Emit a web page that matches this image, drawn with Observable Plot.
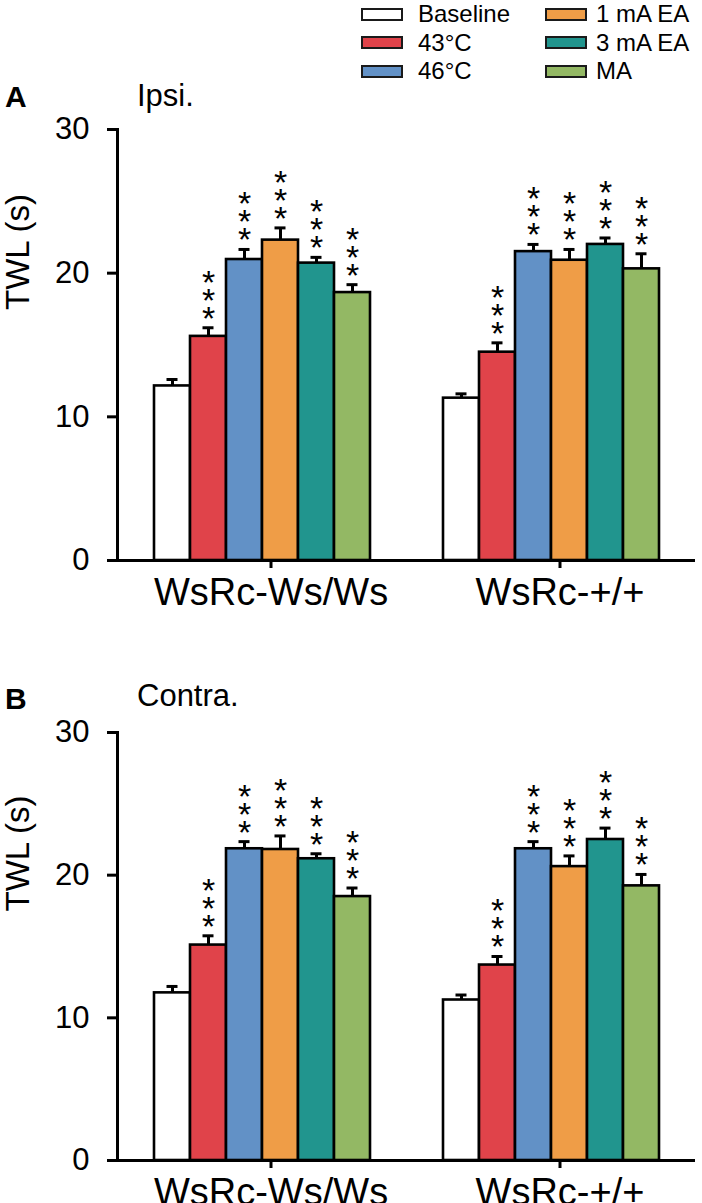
<!DOCTYPE html>
<html>
<head>
<meta charset="utf-8">
<script src="https://cdn.jsdelivr.net/npm/d3@7"></script>
<script src="https://cdn.jsdelivr.net/npm/@observablehq/plot@0.6"></script>
<style>
  html, body { margin: 0; padding: 0; background: #fff; }
  body { width: 702px; height: 1203px; position: relative; overflow: hidden;
         font-family: "Liberation Sans", Arial, Helvetica, sans-serif; color: #000; }
  .panel { position: absolute; left: 0; }
  .lab { position: absolute; font-size: 31px; line-height: 1; white-space: nowrap; }
  .legend-item { position: absolute; display: flex; align-items: center; font-size: 24px; line-height: 1; white-space: nowrap; }
  .sw { width: 42px; height: 13px; box-sizing: border-box; border: 2.5px solid #1a1a1a; }
</style>
</head>
<body>
<div id="legend"></div>
<div class="lab" style="left:5px; top:82px; font-weight:bold; font-size:30px;">A</div>
<div class="lab" style="left:137px; top:80px;">Ipsi.</div>
<div class="lab" style="left:5px; top:684px; font-weight:bold; font-size:30px;">B</div>
<div class="lab" style="left:137px; top:680px;">Contra.</div>
<div id="panelA" class="panel" style="top:0px;"></div>
<div id="panelB" class="panel" style="top:600px;"></div>
<script>
// ---- data ----
const groups = ["WsRc-Ws/Ws", "WsRc-+/+"];
const conditions = ["Baseline", "43°C", "46°C", "1 mA EA", "3 mA EA", "MA"];
const colors = ["#ffffff", "#e0434a", "#6291c6", "#ef9d47", "#21958e", "#93b864"];
const stars = ["", "***", "***", "***", "***", "***"];

// Panel A (Ipsi.)
const ipsiWsMean = [12.15, 15.6, 20.95, 22.3, 20.7, 18.65];
const ipsiWsSem  = [0.45, 0.6, 0.7, 0.85, 0.4, 0.55];
const ipsiWtMean = [11.3, 14.5, 21.5, 20.9, 22.0, 20.3];
const ipsiWtSem  = [0.3, 0.65, 0.5, 0.75, 0.45, 1.05];

// Panel B (Contra.)
const contraWsMean = [11.75, 15.1, 21.85, 21.8, 21.15, 18.5];
const contraWsSem  = [0.45, 0.65, 0.5, 0.95, 0.35, 0.6];
const contraWtMean = [11.25, 13.7, 21.85, 20.6, 22.5, 19.25];
const contraWtSem  = [0.35, 0.6, 0.5, 0.75, 0.8, 0.8];

const yTicks = [0, 10, 20, 30];

// ---- legend ----
const legend = document.getElementById("legend");
conditions.forEach((c, i) => {
  const col = Math.floor(i / 3), row = i % 3;
  const item = document.createElement("div");
  item.className = "legend-item";
  item.style.left = (col === 0 ? 361 : 545) + "px";
  item.style.top = (2 + row * 28.5) + "px";
  item.style.height = "24px";
  const sw = document.createElement("div");
  sw.className = "sw";
  sw.style.background = colors[i];
  sw.style.marginRight = (col === 0 ? 15 : 9) + "px";
  const t = document.createElement("span");
  t.textContent = c;
  item.appendChild(sw); item.appendChild(t);
  legend.appendChild(item);
});

function rowsFor(meansBy, semsBy) {
  const rows = [];
  groups.forEach((g, gi) => {
    conditions.forEach((c, ci) => {
      rows.push({group: g, cond: c, mean: meansBy[gi][ci], sem: semsBy[gi][ci], top: meansBy[gi][ci] + semsBy[gi][ci], stars: stars[ci]});
    });
  });
  return rows;
}

function panel(rows, marginTop, marginBottom, height) {
  const font = "'Liberation Sans', Arial, Helvetica, sans-serif";
  return Plot.plot({
    width: 702,
    height,
    marginTop, marginBottom, marginLeft: 116, marginRight: 7,
    style: {fontFamily: font, color: "#000", background: "transparent", overflow: "visible"},
    fx: {domain: groups, padding: 0, label: null},
    x: {domain: conditions, paddingInner: 0, paddingOuter: 0.97, axis: null},
    y: {domain: [0, 30], label: null},
    color: {domain: conditions, range: colors},
    marks: [
      Plot.barY(rows, {fx: "group", x: "cond", y: "mean", fill: "cond", stroke: "#000", strokeWidth: 2.6}),
      Plot.ruleX(rows, {fx: "group", x: "cond", y1: "mean", y2: "top", stroke: "#000", strokeWidth: 3}),
      Plot.tickY(rows, {fx: "group", x: "cond", y: "top", stroke: "#000", strokeWidth: 3, insetLeft: 12.5, insetRight: 12.5}),
      Plot.text(rows.filter(d => d.stars), {
        fx: "group", x: "cond", y: "top",
        text: d => d.stars.split("").join("\n"),
        fontSize: 34, lineHeight: 0.53, lineAnchor: "bottom", dy: 2, fill: "#000"
      }),
      Plot.ruleY([0], {stroke: "#000", strokeWidth: 3}),
      Plot.frame({anchor: "left", facet: "super", stroke: "#000", strokeWidth: 3}),
      Plot.axisY({ticks: yTicks, tickSize: 10, tickPadding: 18, fontSize: 31, stroke: "#000", strokeWidth: 3, label: null}),
      Plot.axisFx({anchor: "bottom", tickSize: 8, tickPadding: 10, fontSize: 38, dx: 9, stroke: "#000", strokeWidth: 3, label: null}),
      Plot.text(["TWL (s)"], {frameAnchor: "left", dx: -99, dy: -35, rotate: -90, fontSize: 33, fill: "#000", facet: "super"})
    ]
  });
}

const rowsA = rowsFor([ipsiWsMean, ipsiWtMean], [ipsiWsSem, ipsiWtSem]);
const rowsB = rowsFor([contraWsMean, contraWtMean], [contraWsSem, contraWtSem]);
document.getElementById("panelA").appendChild(panel(rowsA, 129, 40, 600));
document.getElementById("panelB").appendChild(panel(rowsB, 132, 43, 603));
</script>
</body>
</html>
